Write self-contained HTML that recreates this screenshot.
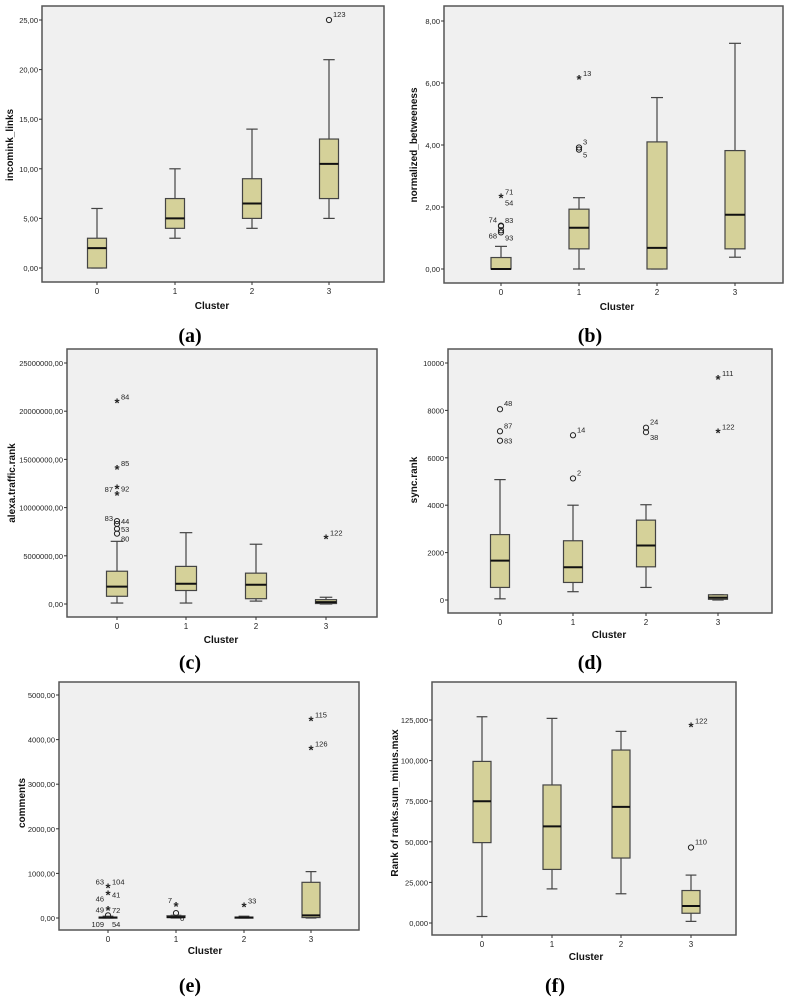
<!DOCTYPE html>
<html><head><meta charset="utf-8"><style>
html,body{margin:0;padding:0;background:#fff;}
svg{display:block;font-family:"Liberation Sans",sans-serif;}
.cap{font-family:"Liberation Serif",serif;font-weight:bold;font-size:20px;}
</style></head><body>
<svg id="root" width="790" height="1000" viewBox="0 0 790 1000"></svg>
<script>
const categories = ["0","1","2","3"];
// panel a: incomink_links
const aLow=[0,3,4,5], aQ1=[0,4,5,7], aMed=[2,5,6.5,10.5], aQ3=[3,7,9,13], aHigh=[6,10,14,21];
const aOut=[[3,25,"o","123","r"]];
const aTicks=[0,5,10,15,20,25], aTickLabels=["0,00","5,00","10,00","15,00","20,00","25,00"];
// panel b: normalized_betweeness
const bLow=[0,0,0,0.38], bQ1=[0,0.65,0,0.65], bMed=[0,1.33,0.68,1.75], bQ3=[0.37,1.93,4.1,3.82], bHigh=[0.73,2.3,5.53,7.28];
const bOut=[[0,2.3,"*","71","r"],[0,1.95,"n","54","r"],[0,1.4,"o","74","l"],[0,1.38,"o","83","r"],[0,1.25,"o","68","lb"],[0,1.18,"o","93","rb"],[1,6.13,"*","13","r"],[1,3.92,"o","3","r"],[1,3.85,"o","5","rb"]];
const bTicks=[0,2,4,6,8], bTickLabels=["0,00","2,00","4,00","6,00","8,00"];
// panel c: alexa.traffic.rank (millions)
const cLow=[0.1,0.1,0.3,0], cQ1=[0.8,1.4,0.55,0.05], cMed=[1.8,2.1,2.0,0.2], cQ3=[3.4,3.9,3.2,0.45], cHigh=[6.5,7.4,6.2,0.7];
const cOut=[[0,20.9,"*","84","r"],[0,14.0,"*","85","r"],[0,12.0,"*","92","rm"],[0,11.3,"*","87","l"],[0,8.6,"o","44","rm"],[0,8.3,"o","83","l"],[0,7.8,"o","53","rm"],[0,7.3,"o","80","rb"],[3,6.8,"*","122","r"]];
const cTicks=[0,5,10,15,20,25], cTickLabels=["0,00","5000000,00","10000000,00","15000000,00","20000000,00","25000000,00"];
// panel d: sync.rank
const dLow=[50,350,530,0], dQ1=[530,740,1400,30], dMed=[1660,1380,2300,100], dQ3=[2760,2500,3370,220], dHigh=[5080,4000,4020,220];
const dOut=[[0,8050,"o","48","r"],[0,7120,"o","87","r"],[0,6720,"o","83","rm"],[1,6950,"o","14","r"],[1,5130,"o","2","r"],[2,7270,"o","24","r"],[2,7080,"o","38","rb"],[3,9330,"*","111","r"],[3,7060,"*","122","r"]];
const dTicks=[0,2000,4000,6000,8000,10000], dTickLabels=["0","2000","4000","6000","8000","10000"];
// panel e: comments
const eLow=[0,0,0,0], eQ1=[5,10,5,10], eMed=[10,20,10,60], eQ3=[20,50,20,800], eHigh=[40,60,40,1040];
const eOut=[[0,680,"*","104","r"],[0,680,"n","63","l"],[0,530,"*","41","rm"],[0,300,"n","46","l"],[0,180,"*","72","rm"],[0,60,"o","49","l"],[0,-20,"n","109","lb"],[0,-20,"n","54","rb"],[1,270,"*","7","l"],[1,110,"o","6","rb"],[2,260,"*","33","r"],[3,4430,"*","115","r"],[3,3780,"*","126","r"]];
const eTicks=[0,1000,2000,3000,4000,5000], eTickLabels=["0,00","1000,00","2000,00","3000,00","4000,00","5000,00"];
// panel f: Rank of ranks.sum_minus.max (thousands)
const fLow=[4,21,18,1], fQ1=[49.5,33,40,6], fMed=[75,59.5,71.5,10.5], fQ3=[99.5,85,106.5,20], fHigh=[127,126,118,29.5];
const fOut=[[3,121,"*","122","r"],[3,46.5,"o","110","r"]];
const fTicks=[0,25,50,75,100,125], fTickLabels=["0,000","25,000","50,000","75,000","100,000","125,000"];

const NS="http://www.w3.org/2000/svg";
const root=document.getElementById('root');
function mk(tag,attrs,parent){const e=document.createElementNS(NS,tag);for(const k in attrs)e.setAttribute(k,attrs[k]);(parent||root).appendChild(e);return e;}

const panels=[
 {id:"a",title:"incomink_links",L:42,T:6,R:384,B:282,y0:268,y1:20,v1:25,cx:[97,175,252,329],bw:19,low:aLow,q1:aQ1,med:aMed,q3:aQ3,high:aHigh,out:aOut,ticks:aTicks,tl:aTickLabels,ytx:13,yty:145,xtx:212,xty:309,cap:"(a)",capx:190,capy:342},
 {id:"b",title:"normalized_betweeness",L:444,T:6,R:783,B:283,y0:269,y1:21,v1:8,cx:[501,579,657,735],bw:20,low:bLow,q1:bQ1,med:bMed,q3:bQ3,high:bHigh,out:bOut,ticks:bTicks,tl:bTickLabels,ytx:417,yty:145,xtx:617,xty:310,cap:"(b)",capx:590,capy:342},
 {id:"c",title:"alexa.traffic.rank",L:67,T:349,R:377,B:617,y0:604,y1:363,v1:25,cx:[117,186,256,326],bw:21,low:cLow,q1:cQ1,med:cMed,q3:cQ3,high:cHigh,out:cOut,ticks:cTicks,tl:cTickLabels,ytx:15,yty:483,xtx:221,xty:643,cap:"(c)",capx:190,capy:669},
 {id:"d",title:"sync.rank",L:448,T:349,R:772,B:613,y0:600,y1:363,v1:10000,cx:[500,573,646,718],bw:19,low:dLow,q1:dQ1,med:dMed,q3:dQ3,high:dHigh,out:dOut,ticks:dTicks,tl:dTickLabels,ytx:417,yty:480,xtx:609,xty:638,cap:"(d)",capx:590,capy:669},
 {id:"e",title:"comments",L:59,T:682,R:359,B:930,y0:918,y1:695,v1:5000,cx:[108,176,244,311],bw:18,low:eLow,q1:eQ1,med:eMed,q3:eQ3,high:eHigh,out:eOut,ticks:eTicks,tl:eTickLabels,ytx:25,yty:803,xtx:205,xty:954,cap:"(e)",capx:190,capy:992},
 {id:"f",title:"Rank of ranks.sum_minus.max",L:432,T:682,R:736,B:935,y0:923,y1:720,v1:125,cx:[482,552,621,691],bw:18,low:fLow,q1:fQ1,med:fMed,q3:fQ3,high:fHigh,out:fOut,ticks:fTicks,tl:fTickLabels,ytx:398,yty:803,xtx:586,xty:960,cap:"(f)",capx:555,capy:992}
];

panels.forEach(p=>{
 const g=mk('g',{});
 
 
 const y=v=>p.y0+(p.y1-p.y0)*v/p.v1;
 const bg=mk('rect',{x:p.L,y:p.T,width:p.R-p.L,height:p.B-p.T,fill:'#f0f0f0',stroke:'#555','stroke-width':1.5},g);
 
 
 p.ticks.forEach((t,i)=>{
  const yy=y(t);
  mk('line',{x1:p.L-3,x2:p.L,y1:yy,y2:yy,stroke:'#333','stroke-width':1},g);
  const tx=mk('text',{x:p.L-4,y:yy+3,'font-size':7.5,'text-anchor':'end',fill:'#222'},g);
  tx.textContent=p.tl[i];
  
  
 });
 categories.forEach((c,i)=>{
  const x=p.cx[i];
  mk('line',{x1:x,x2:x,y1:p.B,y2:p.B+3,stroke:'#333','stroke-width':1},g);
  const tx=mk('text',{x:x,y:p.B+12,'font-size':8,'text-anchor':'middle',fill:'#222'},g);
  tx.textContent=c;
  
  
  const bx=mk('g',{},g);
  
  
  const hw=p.bw/2, cap=p.bw*0.3;
  mk('line',{x1:x,x2:x,y1:y(p.high[i]),y2:y(p.q3[i]),stroke:'#444','stroke-width':1.2},bx);
  mk('line',{x1:x,x2:x,y1:y(p.q1[i]),y2:y(p.low[i]),stroke:'#444','stroke-width':1.2},bx);
  mk('line',{x1:x-cap,x2:x+cap,y1:y(p.high[i]),y2:y(p.high[i]),stroke:'#444','stroke-width':1.2},bx);
  mk('line',{x1:x-cap,x2:x+cap,y1:y(p.low[i]),y2:y(p.low[i]),stroke:'#444','stroke-width':1.2},bx);
  mk('rect',{x:x-hw,y:y(p.q3[i]),width:p.bw,height:Math.max(1,y(p.q1[i])-y(p.q3[i])),fill:'#d5d199',stroke:'#444','stroke-width':1.2},bx);
  mk('line',{x1:x-hw,x2:x+hw,y1:y(p.med[i]),y2:y(p.med[i]),stroke:'#111','stroke-width':2},bx);
 });
 p.out.forEach(o=>{
  const x=p.cx[o[0]], yy=y(o[1]);
  if(o[2]==="o"){
   const c=mk('circle',{cx:x,cy:yy,r:2.6,fill:'none',stroke:'#222','stroke-width':1},g);
   
   
  } else if(o[2]==="*"){
   const s=mk('text',{x:x,y:yy+5,'font-size':13,'text-anchor':'middle','font-weight':'bold',fill:'#222'},g);
   s.textContent="*";
   
   
  }
  const side=o[4]||"r";
  let lx=x+4, ly=yy-3, anchor='start';
  if(side[0]==="l"){lx=x-4;anchor='end';}
  if(side.indexOf("m")>0) ly=yy+3;
  if(side.indexOf("b")>0) ly=yy+8;
  const l=mk('text',{x:lx,y:ly,'font-size':7.5,'text-anchor':anchor,fill:'#222'},g);
  l.textContent=o[3];
  
  
 });
 const yt=mk('text',{x:p.ytx,y:p.yty,'font-size':10,'font-weight':'bold','text-anchor':'middle',transform:`rotate(-90 ${p.ytx} ${p.yty})`,fill:'#111'},g);
 yt.textContent=p.title;
 
 
 const xt=mk('text',{x:p.xtx,y:p.xty,'font-size':10,'font-weight':'bold','text-anchor':'middle',fill:'#111'},g);
 xt.textContent="Cluster";
 
 
 const cp=mk('text',{x:p.capx,y:p.capy,'text-anchor':'middle',class:'cap',fill:'#000'},g);
 cp.textContent=p.cap;
 
 
});
</script>
</body></html>
